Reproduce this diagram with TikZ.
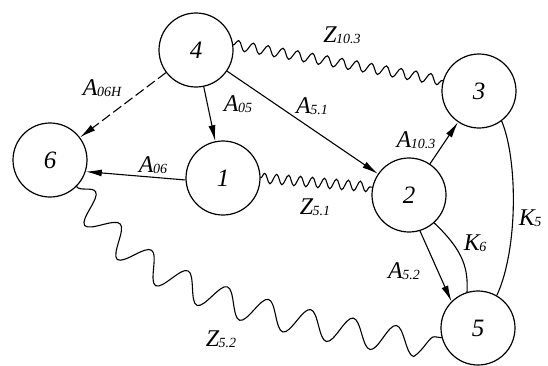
\documentclass[tikz,border=0pt]{standalone}
\usepackage{fontspec}
\setmainfont{Liberation Serif}
\usetikzlibrary{arrows.meta,decorations.pathmorphing}
\newcommand{\lbl}[2]{{\fontsize{24}{24}\selectfont\itshape #1\kern-0.5pt\raisebox{-1.5pt}{\fontsize{14}{14}\selectfont #2}}}
\tikzset{
  vert/.style={draw,circle,minimum size=74pt,inner sep=0pt,line width=1.2pt,font=\fontsize{25}{25}\selectfont\itshape},
  edgeline/.style={line width=1.1pt},
  arr/.style={edgeline,-{Latex[length=16pt,width=7pt]}},
  wavesmall/.style={line width=1.1pt,decorate,decoration={snake,segment length=#1,amplitude=5pt}},
  wavebig/.style={line width=1.1pt,decorate,decoration={snake,segment length=44pt,amplitude=14pt}},
  lab/.style={inner sep=0pt}
}
\begin{document}
\begin{tikzpicture}[x=1pt,y=-1pt]
\useasboundingbox (0,0) rectangle (548,365);
\node[vert] (n4) at (196,50) {4};
\node[vert] (n6) at (50,160) {6};
\node[vert] (n1) at (223,178) {1};
\node[vert] (n3) at (479,91) {3};
\node[vert] (n2) at (409,195) {2};
\node[vert] (n5) at (478,328) {5};

\draw[arr,dash pattern=on 10pt off 4pt] (n4) -- (n6);
\draw[arr] (n4) -- (n1);
\draw[arr] (n4) -- (n2);
\draw[arr] (n1.183) -- (n6.-18);
\draw[arr] (n2) -- (n3);
\draw[arr] (n2.-73) -- (n5.135);
\draw[edgeline] (n2.-48) .. controls (465,252) and (468,270) .. (n5.107);
\draw[edgeline] (n3.-53) .. controls (518,160) and (518,250) .. (n5.60);

\draw[wavesmall=15pt] (n4.8) -- (n3.164);
\draw[wavesmall=12pt] (n1.0) -- (n2.168);
\draw[wavebig] (n6.-45) .. controls (130,280) and (250,310) .. (n5.195);

\node[lab] (l06h) at (102,88) {\lbl{A}{06H}};
\node[lab] (l05) at (238,104) {\lbl{A}{05}};
\node[lab] (l06) at (153,165) {\lbl{A}{06}};
\node[lab] (l51) at (312,106) {\lbl{A}{5.1}};
\node[lab] (l103) at (416,140) {\lbl{A}{10.3}};
\node[lab] (lz103) at (342,35) {\lbl{Z}{10.3}};
\node[lab] (lz51) at (315,207) {\lbl{Z}{5.1}};
\node[lab] (lk6) at (475,243) {\lbl{K}{6}};
\node[lab] (l52) at (404,271) {\lbl{A}{5.2}};
\node[lab] (lk5) at (530,218) {\lbl{K}{5}};
\node[lab] (lz52) at (221,339) {\lbl{Z}{5.2}};
\end{tikzpicture}
\end{document}
